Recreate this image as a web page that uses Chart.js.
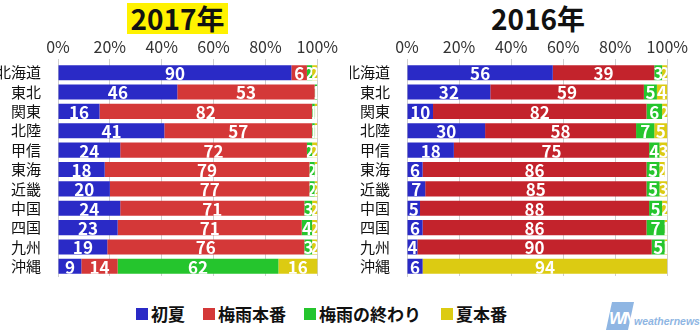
<!DOCTYPE html>
<html lang="ja">
<head>
<meta charset="utf-8">
<script src="https://cdn.jsdelivr.net/npm/chart.js@4"></script>
<style>
  html, body {
    margin: 0;
    padding: 0;
    background: #fff;
    width: 700px;
    height: 334px;
    overflow: hidden;
    font-family: "Noto Sans CJK JP", "Noto Sans", sans-serif;
  }
  .chart-box { position: absolute; top: 30px; width: 340px; height: 264px; }
  .year-title {
    position: absolute;
    top: 3px;
    height: 31px;
    line-height: 31px;
    font-size: 28px;
    font-weight: 700;
    color: #111;
    text-align: center;
  }
  #legend {
    position: absolute;
    top: 301px;
    left: 136px;
    display: flex;
    font-size: 17px;
    font-weight: 700;
    color: #111;
  }
  #legend .item { display: flex; align-items: center; }
  #legend .swatch { width: 12px; height: 12px; margin-right: 3px; }
  #logo { position: absolute; left: 606px; top: 300px; width: 94px; height: 34px; }
</style>
</head>
<body>
<div class="year-title" style="left:127px;width:101px;background:#fff200;">2017年</div>
<div class="year-title" style="left:488px;width:100px;">2016年</div>
<div class="chart-box" style="left:0;"><canvas id="chart2017"></canvas></div>
<div class="chart-box" style="left:350px;"><canvas id="chart2016"></canvas></div>
<div id="legend"></div>
<svg id="logo" viewBox="0 0 94 34">
  <polygon points="6,2 28,2 22,30 0,30" fill="#8fb6e3"/>
  <text x="3" y="24" font-family="Liberation Sans, sans-serif" font-size="17" font-weight="700"
        font-style="italic" fill="#fff" letter-spacing="-2">WN</text>
  <text x="28" y="25" font-family="Liberation Sans, sans-serif" font-size="10.5" font-weight="700"
        font-style="italic" fill="#8fb6e3">weathernews</text>
</svg>

<script>
const regions = ["北海道", "東北", "関東", "北陸", "甲信", "東海", "近畿", "中国", "四国", "九州", "沖縄"];
const seriesNames = ["初夏", "梅雨本番", "梅雨の終わり", "夏本番"];
const tickValues = [0, 20, 40, 60, 80, 100];

// 2017 shares (%)
const early2017 = [90, 46, 16, 41, 24, 18, 20, 24, 23, 19, 9];
const rainy2017 = [6, 53, 82, 57, 72, 79, 77, 71, 71, 76, 14];
const ending2017 = [2, 1, 1, 1, 2, 2, 2, 3, 4, 3, 62];
const summer2017 = [2, 0, 1, 1, 2, 1, 2, 2, 2, 2, 16];

// 2016 shares (%)
const early2016 = [56, 32, 10, 30, 18, 6, 7, 5, 6, 4, 6];
const rainy2016 = [39, 59, 82, 58, 75, 86, 85, 88, 86, 90, 0];
const ending2016 = [3, 5, 6, 7, 4, 5, 5, 5, 7, 5, 0];
const summer2016 = [2, 4, 2, 5, 3, 2, 3, 2, 1, 1, 94];

const BLUE = "#2a2ac6";
const GREEN = "#25c52d";
const YELLOW = "#dccb12";
const RED_2017 = "#d43838";
const RED_2016 = "#c3232c";
const FONT = "\"Noto Sans CJK JP\", \"Noto Sans\", sans-serif";

// white value labels, clipped to their own segment
const segmentLabels = {
  id: "segmentLabels",
  afterDatasetsDraw(chart) {
    const ctx = chart.ctx;
    chart.data.datasets.forEach((dataset, di) => {
      const meta = chart.getDatasetMeta(di);
      meta.data.forEach((bar, i) => {
        const value = dataset.data[i];
        if (!value) return;
        const left = Math.min(bar.base, bar.x);
        const right = Math.min(Math.max(bar.base, bar.x), chart.chartArea.right);
        const top = bar.y - bar.height / 2;
        ctx.save();
        ctx.beginPath();
        ctx.rect(left, top, right - left, bar.height);
        ctx.clip();
        ctx.fillStyle = "#fff";
        ctx.font = `bold 17px ${FONT}`;
        ctx.textAlign = "center";
        ctx.textBaseline = "middle";
        ctx.fillText(String(value), (left + right) / 2, bar.y + 1);
        ctx.restore();
      });
    });
  },
};

function buildChart(canvasId, series, red, yAxisWidth) {
  const colors = [BLUE, red, GREEN, YELLOW];
  return new Chart(document.getElementById(canvasId), {
    type: "bar",
    data: {
      labels: regions,
      datasets: series.map((values, k) => ({
        label: seriesNames[k],
        data: values,
        backgroundColor: colors[k],
        borderWidth: 0,
        barPercentage: 0.78,
        categoryPercentage: 1,
      })),
    },
    options: {
      indexAxis: "y",
      responsive: true,
      maintainAspectRatio: false,
      animation: false,
      layout: { padding: { right: 13, left: 0, top: 0, bottom: 0 } },
      plugins: { legend: { display: false }, tooltip: { enabled: false } },
      scales: {
        x: {
          position: "top",
          stacked: true,
          min: 0,
          max: 100,
          afterBuildTicks(scale) {
            scale.ticks = tickValues.map((v) => ({ value: v }));
          },
          afterFit(scale) {
            scale.height = 33;
          },
          ticks: {
            callback: (v) => `${v}%`,
            color: "#333",
            font: { family: FONT, size: 16 },
            padding: 2,
            maxRotation: 0,
          },
          grid: { color: "#cfcfcf", tickLength: 4, tickColor: "#cfcfcf" },
          border: { display: false },
        },
        y: {
          stacked: true,
          afterFit(scale) {
            scale.width = yAxisWidth;
          },
          ticks: {
            autoSkip: false,
            color: "#111",
            font: { family: FONT, size: 15 },
            padding: 9,
          },
          grid: { display: false },
          border: { display: true, color: "#cfcfcf" },
        },
      },
    },
    plugins: [segmentLabels],
  });
}

buildChart("chart2017", [early2017, rainy2017, ending2017, summer2017], RED_2017, 58);
buildChart("chart2016", [early2016, rainy2016, ending2016, summer2016], RED_2016, 57);

const legendColors = [BLUE, RED_2017, GREEN, YELLOW];
const legendGaps = [18, 18, 20, 0];
const legend = document.getElementById("legend");
seriesNames.forEach((name, k) => {
  const item = document.createElement("div");
  item.className = "item";
  item.style.marginRight = `${legendGaps[k]}px`;
  const swatch = document.createElement("span");
  swatch.className = "swatch";
  swatch.style.background = legendColors[k];
  const text = document.createElement("span");
  text.textContent = name;
  item.append(swatch, text);
  legend.append(item);
});
</script>
</body>
</html>
